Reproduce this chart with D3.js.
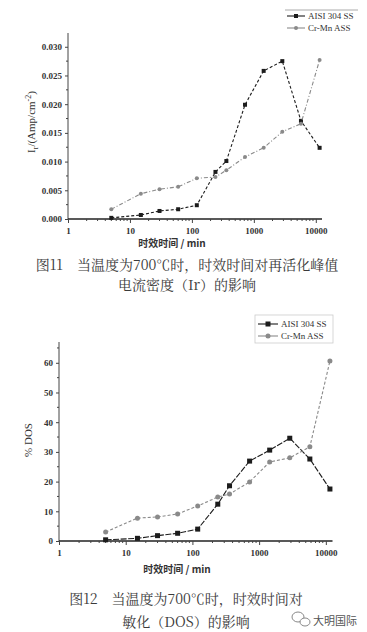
<!DOCTYPE html>
<html><head><meta charset="utf-8">
<script src="https://cdn.jsdelivr.net/npm/d3@7"></script>
<style>
html,body{margin:0;padding:0;background:#fff;}
svg{display:block;}
</style></head>
<body>
<script>
// ---- data ----
const times = [5, 15, 30, 60, 120, 240, 360, 720, 1440, 2880, 5760, 11520];
const ir304  = [0.0002, 0.0007, 0.0014, 0.0017, 0.0024, 0.0082, 0.0101, 0.0199, 0.0258, 0.0275, 0.0171, 0.0124];
const irCrMn = [0.0017, 0.0044, 0.0052, 0.0056, 0.0071, 0.0073, 0.0085, 0.0108, 0.0124, 0.0152, 0.0166, 0.0277];
const dos304  = [0.4, 0.9, 1.8, 2.6, 4.0, 12.4, 18.6, 26.9, 30.6, 34.6, 27.6, 17.5];
const dosCrMn = [3.0, 7.7, 8.1, 9.1, 11.8, 14.8, 15.8, 19.9, 26.6, 28.0, 31.7, 60.6];
const seriesNames = ["AISI 304 SS", "Cr-Mn ASS"];
const xTicks = [1, 10, 100, 1000, 10000];
const irTicks = [0, 0.005, 0.010, 0.015, 0.020, 0.025, 0.030];
const dosTicks = [0, 10, 20, 30, 40, 50, 60];
const xTitle = "时效时间 / min";
const cap11 = ["图11　当温度为700℃时，时效时间对再活化峰值", "电流密度（Ir）的影响"];
const cap12 = ["图12　当温度为700℃时，时效时间对", "敏化（DOS）的影响"];

const W = 367, H = 632;
const svg = d3.select("body").append("svg").attr("width", W).attr("height", H);
const serif = "'Liberation Serif','DejaVu Serif',serif";
const cjk = "'Noto Sans CJK SC',sans-serif";
const cBlack = "#1c1c1c", cGray = "#8a8a8a", cText = "#333";

function drawChart(opt) {
  const g = svg.append("g");
  const x = d3.scaleLog().domain(opt.xDom).range(opt.xRange);
  const y = d3.scaleLinear().domain(opt.yDom).range(opt.yRange);
  // y axis
  const ya = d3.axisLeft(y).tickValues(opt.yTicks).tickSize(3).tickFormat(opt.yFmt);
  const yg = g.append("g").attr("transform", `translate(${opt.xRange[0]},0)`).call(ya);
  yg.select(".domain").attr("stroke", "#444").attr("d", `M0,${opt.yRange[0]}V${opt.yRange[1]}`);
  yg.selectAll(".tick line").attr("stroke", "#444");
  yg.selectAll("text").attr("font-family", serif).attr("font-size", 9).attr("font-weight", "bold").attr("fill", cText);
  // minor y ticks
  g.append("g").selectAll("line").data(opt.yMinor).join("line")
    .attr("x1", opt.xRange[0] - 2).attr("x2", opt.xRange[0])
    .attr("y1", d => y(d)).attr("y2", d => y(d)).attr("stroke", "#444");
  // x axis
  const xa = d3.axisBottom(x).tickValues(opt.xTicks).tickSize(4).tickFormat(d3.format("d"));
  const xg = g.append("g").attr("transform", `translate(0,${opt.yRange[0]})`).call(xa);
  xg.select(".domain").attr("stroke", "#222").attr("stroke-width", 1.3).attr("d", `M${opt.xRange[0]},0H${opt.xRange[1]}`);
  xg.selectAll(".tick line").attr("stroke", "#444");
  xg.selectAll("text").attr("font-family", serif).attr("font-size", 9).attr("font-weight", "bold").attr("fill", cText).attr("dy", "0.9em");
  // minor x ticks
  const minors = [];
  for (let p = 0; p < 5; p++) for (let m = 2; m <= 9; m++) { const v = m * Math.pow(10, p); if (v < opt.xDom[1]) minors.push(v); }
  g.append("g").selectAll("line").data(minors).join("line")
    .attr("x1", d => x(d)).attr("x2", d => x(d))
    .attr("y1", opt.yRange[0]).attr("y2", opt.yRange[0] + 2).attr("stroke", "#444");
  // series
  opt.series.forEach(s => {
    const pts = times.map((t, i) => [t, s.values[i]]);
    g.append("path").datum(pts)
      .attr("d", d3.line().x(d => x(d[0])).y(d => y(d[1])))
      .attr("fill", "none").attr("stroke", s.color).attr("stroke-width", 1.1)
      .attr("stroke-dasharray", s.dash);
    const mk = g.append("g").selectAll(null).data(pts).enter();
    if (s.shape === "square") {
      mk.append("rect").attr("x", d => x(d[0]) - s.size / 2).attr("y", d => y(d[1]) - s.size / 2)
        .attr("width", s.size).attr("height", s.size).attr("fill", s.color);
    } else {
      mk.append("circle").attr("cx", d => x(d[0])).attr("cy", d => y(d[1])).attr("r", s.size / 2).attr("fill", s.color);
    }
  });
  // legend
  const L = opt.legend;
  if (L.box) {
    g.append("rect").attr("x", L.box[0]).attr("y", L.box[1]).attr("width", L.box[2]).attr("height", L.box[3])
      .attr("fill", "none").attr("stroke", "#ccc").attr("stroke-width", 0.8);
  }
  if (L.topLine) {
    g.append("line").attr("x1", L.topLine[0]).attr("x2", L.topLine[1]).attr("y1", L.topLine[2]).attr("y2", L.topLine[2])
      .attr("stroke", "#aaa");
  }
  opt.series.forEach((s, i) => {
    const ly = L.y0 + i * L.dy;
    g.append("line").attr("x1", L.x).attr("x2", L.x + L.len).attr("y1", ly).attr("y2", ly)
      .attr("stroke", s.color).attr("stroke-width", 1.1);
    const cx = L.x + L.len / 2;
    if (s.shape === "square") g.append("rect").attr("x", cx - s.size / 2).attr("y", ly - s.size / 2).attr("width", s.size).attr("height", s.size).attr("fill", s.color);
    else g.append("circle").attr("cx", cx).attr("cy", ly).attr("r", s.size / 2).attr("fill", s.color);
    g.append("text").attr("x", L.x + L.len + 3).attr("y", ly).attr("dy", "0.35em")
      .attr("font-family", serif).attr("font-size", 9).attr("fill", cText).text(seriesNames[i]);
  });
  // x title
  g.append("text").attr("x", opt.xTitlePos[0]).attr("y", opt.xTitlePos[1]).attr("text-anchor", "middle")
    .attr("font-family", cjk).attr("font-size", 10).attr("font-weight", "bold").attr("fill", cText).text(xTitle);
  // y title
  const yt = g.append("text").attr("transform", `translate(${opt.yTitlePos[0]},${opt.yTitlePos[1]}) rotate(-90)`)
    .attr("text-anchor", "middle").attr("font-family", serif).attr("font-size", 11).attr("fill", cText);
  opt.yTitle(yt);
  // caption
  opt.caption.forEach((c, i) => {
    g.append("text").attr("x", opt.capX).attr("y", opt.capY[i]).attr("text-anchor", "middle")
      .attr("font-family", "'Noto Serif CJK SC','Noto Sans CJK SC',serif").attr("font-size", 14).attr("fill", "#3a3a3a").text(c);
  });
}

drawChart({
  xDom: [1, Math.pow(10, 4.1)], xRange: [68, 322],
  yDom: [0, 0.0324], yRange: [219, 33],
  yTicks: irTicks, yFmt: d3.format(".3f"),
  yMinor: [0.0025, 0.0075, 0.0125, 0.0175, 0.0225, 0.0275],
  xTicks: xTicks,
  series: [
    {values: ir304, color: cBlack, dash: "3,2", shape: "square", size: 4},
    {values: irCrMn, color: cGray, dash: "4,2,1,2", shape: "circle", size: 4}
  ],
  legend: {x: 287, len: 18, y0: 16, dy: 12, topLine: [285, 358, 10]},
  xTitlePos: [172, 247],
  yTitlePos: [35, 122],
  yTitle: t => { t.append("tspan").text("I"); t.append("tspan").attr("font-size", 8).attr("dy", 3).text("r");
    t.append("tspan").attr("dy", -3).text("/(Amp/cm"); t.append("tspan").attr("font-size", 8).attr("dy", -4).text("-2");
    t.append("tspan").attr("dy", 4).text(")"); },
  caption: cap11, capX: 187, capY: [270, 290]
});

drawChart({
  xDom: [1, Math.pow(10, 4.1)], xRange: [59, 332.5],
  yDom: [0, 67], yRange: [541, 342],
  yTicks: dosTicks, yFmt: d3.format("d"),
  yMinor: [5, 15, 25, 35, 45, 55, 65],
  xTicks: xTicks,
  series: [
    {values: dos304, color: cBlack, dash: "6,1.5", shape: "square", size: 5},
    {values: dosCrMn, color: cGray, dash: "3,2", shape: "circle", size: 5}
  ],
  legend: {x: 258, len: 20, y0: 324, dy: 12, box: [255, 315, 78, 28]},
  xTitlePos: [177, 573],
  yTitlePos: [32, 440],
  yTitle: t => t.text("% DOS"),
  caption: cap12, capX: 186, capY: [604, 627]
});

// watermark
const wm = svg.append("g");
wm.append("ellipse").attr("cx", 298).attr("cy", 617).attr("rx", 6).attr("ry", 5).attr("fill", "none").attr("stroke", "#888").attr("stroke-width", 1);
wm.append("ellipse").attr("cx", 305).attr("cy", 622).attr("rx", 5).attr("ry", 4).attr("fill", "#fff").attr("stroke", "#888").attr("stroke-width", 1);
wm.append("text").attr("x", 313).attr("y", 621).attr("dy", "0.35em").attr("font-family", cjk).attr("font-size", 11).attr("fill", "#555").text("大明国际");
</script>
</body></html>
